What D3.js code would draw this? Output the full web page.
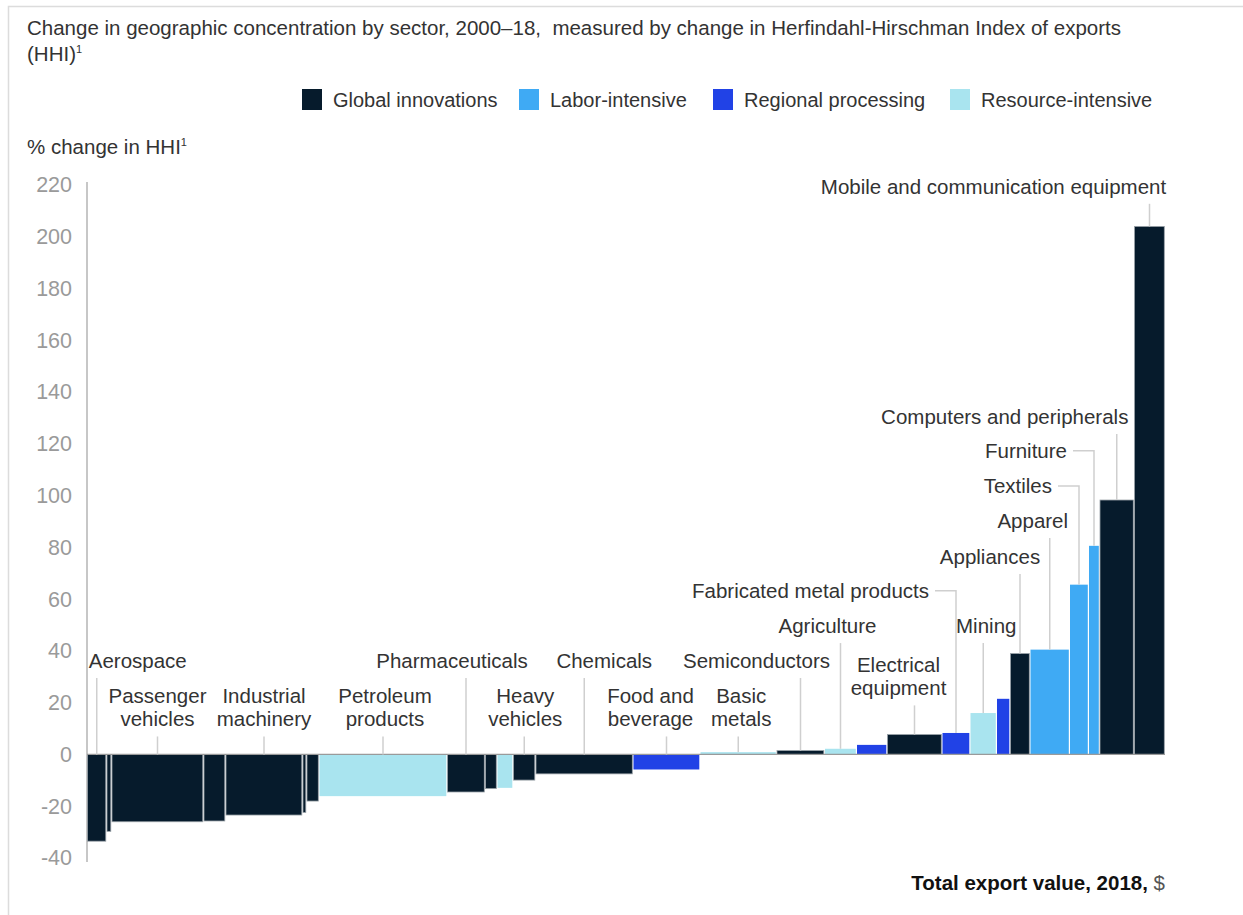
<!DOCTYPE html>
<html>
<head>
<meta charset="utf-8">
<script src="https://cdn.jsdelivr.net/npm/d3@7"></script>
<style>
  html, body { margin: 0; padding: 0; background: #fff; }
  svg text { font-family: "Liberation Sans", Arial, Helvetica, sans-serif; }
</style>
</head>
<body>
<svg id="chart" width="1243" height="915"></svg>
<script>
// ---------------- DATA ----------------
const sectors = ["Aerospace", "", "Passenger vehicles", "", "Industrial machinery", "", "",
  "Petroleum products", "Pharmaceuticals", "", "", "Heavy vehicles", "Chemicals",
  "Food and beverage", "Basic metals", "Semiconductors", "Agriculture", "",
  "Electrical equipment", "Fabricated metal products", "Mining", "", "Appliances",
  "Apparel", "Textiles", "Furniture", "Computers and peripherals",
  "Mobile and communication equipment"];
const groups = ["Global innovations", "Global innovations", "Global innovations", "Global innovations",
  "Global innovations", "Global innovations", "Global innovations", "Resource-intensive",
  "Global innovations", "Global innovations", "Resource-intensive", "Global innovations",
  "Global innovations", "Regional processing", "Resource-intensive", "Global innovations",
  "Resource-intensive", "Regional processing", "Global innovations", "Regional processing",
  "Resource-intensive", "Regional processing", "Global innovations", "Labor-intensive",
  "Labor-intensive", "Labor-intensive", "Global innovations", "Global innovations"];
// % change in HHI, 2000-18
const hhiChange = [-33.5, -29.7, -26, -25.7, -23.4, -22.4, -18, -16.1, -14.5, -13.2, -12.9, -9.9,
  -7.5, -5.8, 0.9, 1.5, 2.2, 3.7, 7.7, 8.3, 16, 21.5, 39, 40.5, 65.6, 80.6, 98.3, 204];
// Total export value 2018 ($ billions)
const exportValue = [312, 80, 1472, 352, 1232, 64, 200, 2048, 608, 192, 256, 360, 1560, 1072,
  1224, 768, 512, 488, 880, 448, 424, 216, 320, 632, 304, 176, 552, 496];
const legendGroups = ["Global innovations", "Labor-intensive", "Regional processing", "Resource-intensive"];
const yTickValues = [-40, -20, 0, 20, 40, 60, 80, 100, 120, 140, 160, 180, 200, 220];

// ---------------- STYLE / LAYOUT ----------------
const FS = 20.5;
const colors = {
  "Global innovations": "#061b2c",
  "Labor-intensive": "#3faaf4",
  "Regional processing": "#2142e6",
  "Resource-intensive": "#a9e4ef"
};
// label annotation layout: dx = px offset from bar middle, yv = value-level of first text line
const labelLayout = {
  "Aerospace": {dx: -8, yv: 36.1, anchor: "start", lines: ["Aerospace"]},
  "Passenger vehicles": {dx: 0, yv: 22.6, lines: ["Passenger", "vehicles"]},
  "Industrial machinery": {dx: 0, yv: 22.6, lines: ["Industrial", "machinery"]},
  "Petroleum products": {dx: 2, yv: 22.6, lines: ["Petroleum", "products"]},
  "Pharmaceuticals": {dx: -14, yv: 36.1, lines: ["Pharmaceuticals"]},
  "Heavy vehicles": {dx: 1, yv: 22.6, lines: ["Heavy", "vehicles"]},
  "Chemicals": {dx: 20, yv: 36.1, lines: ["Chemicals"]},
  "Food and beverage": {dx: -16, yv: 22.6, lines: ["Food and", "beverage"]},
  "Basic metals": {dx: 3, yv: 22.6, lines: ["Basic", "metals"]},
  "Semiconductors": {dx: -44, yv: 36.1, lines: ["Semiconductors"]},
  "Agriculture": {dx: -13, yv: 49.6, lines: ["Agriculture"]},
  "Electrical equipment": {dx: -16, yv: 34.6, lines: ["Electrical", "equipment"]},
  "Fabricated metal products": {elbow: true, yv: 63.2, lines: ["Fabricated metal products"]},
  "Mining": {dx: 3, yv: 49.6, lines: ["Mining"]},
  "Appliances": {dx: -30, yv: 76.3, lines: ["Appliances"]},
  "Apparel": {dx: -17, yv: 90.2, lines: ["Apparel"]},
  "Textiles": {elbow: true, yv: 103.7, lines: ["Textiles"]},
  "Furniture": {elbow: true, yv: 117.3, lines: ["Furniture"]},
  "Computers and peripherals": {dx: -112, yv: 130.4, lines: ["Computers and peripherals"]},
  "Mobile and communication equipment": {dx: -156, yv: 219.3, lines: ["Mobile and communication equipment"]}
};

const svg = d3.select("#chart");

// frame
svg.append("rect").attr("x", 8.5).attr("y", 6.5).attr("width", 1250).attr("height", 930)
  .attr("fill", "none").attr("stroke", "#dcdcdc").attr("stroke-width", 1.5);

// title
svg.append("text").attr("x", 27).attr("y", 35).attr("font-size", FS).attr("fill", "#333")
  .text("Change in geographic concentration by sector, 2000\u201318,\u00a0 measured by change in Herfindahl-Hirschman Index of exports");
const t2 = svg.append("text").attr("x", 27).attr("y", 61).attr("font-size", FS).attr("fill", "#333");
t2.append("tspan").text("(HHI)");
t2.append("tspan").attr("dy", -8).attr("font-size", 11).text("1");

// legend
const legendX = [302, 519, 713, 950];
legendGroups.forEach((g, i) => {
  const lg = svg.append("g").attr("transform", `translate(${legendX[i]},89)`);
  lg.append("rect").attr("width", 20).attr("height", 21).attr("fill", colors[g]);
  lg.append("text").attr("x", 31).attr("y", 18).attr("font-size", 20).attr("fill", "#333").text(g);
});

// y axis title
const yt = svg.append("text").attr("x", 27).attr("y", 154).attr("font-size", FS).attr("fill", "#333");
yt.append("tspan").text("% change in HHI");
yt.append("tspan").attr("dy", -8).attr("font-size", 11).text("1");

// scales
const total = d3.sum(exportValue);
const x = d3.scaleLinear().domain([0, total]).range([87, 1165]);
const y = d3.scaleLinear().domain([-40, 220]).range([858, 185]);

// y axis
const yAxis = d3.axisLeft(y).tickValues(yTickValues).tickSize(0).tickPadding(15)
  .tickFormat(d => String(d));
const ya = svg.append("g").attr("transform", "translate(87,0)").call(yAxis);
ya.select(".domain").remove();
ya.selectAll("text").attr("font-size", 21.5).attr("fill", "#9a9a9a")
  .attr("font-family", "'Liberation Sans', Arial, sans-serif");
svg.append("line").attr("x1", 87).attr("x2", 87).attr("y1", 182).attr("y2", 862)
  .attr("stroke", "#b5b5b5").attr("stroke-width", 1.5);

// bars
const bars = [];
let cum = 0;
sectors.forEach((s, i) => {
  bars.push({name: s, group: groups[i], value: hhiChange[i], x0: cum, x1: cum + exportValue[i]});
  cum += exportValue[i];
});

svg.append("g").selectAll("rect").data(bars).join("rect")
  .attr("x", d => x(d.x0) + 0.5)
  .attr("width", d => Math.max(0.5, x(d.x1) - x(d.x0) - 1.2))
  .attr("y", d => Math.min(y(d.value), y(0)))
  .attr("height", d => Math.abs(y(d.value) - y(0)))
  .attr("fill", d => colors[d.group])
  .attr("stroke", d => d.group === "Global innovations" ? "#9aa2a8" : "none")
  .attr("stroke-width", 0.8);

// baseline
svg.append("line").attr("x1", 87).attr("x2", 1165).attr("y1", y(0)).attr("y2", y(0))
  .attr("stroke", "#9a9a9a").attr("stroke-width", 1.2);

// labels and leaders
const lab = svg.append("g");
bars.forEach(d => {
  const L = labelLayout[d.name];
  if (!L) return;
  const mid = (x(d.x0) + x(d.x1)) / 2;
  const yc = y(L.yv);
  const lastC = yc + (L.lines.length - 1) * 23.5;
  const barTop = y(Math.max(d.value, 0));
  if (L.elbow) {
    const tx = mid - 27;
    lab.append("text").attr("x", tx).attr("y", yc + 7).attr("text-anchor", "end")
      .attr("font-size", FS).attr("fill", "#333").text(L.lines[0]);
    lab.append("path").attr("d", `M${tx + 6},${yc}H${mid}V${barTop}`)
      .attr("fill", "none").attr("stroke", "#cfcfcf").attr("stroke-width", 1.5);
  } else {
    const anchor = L.anchor || "middle";
    L.lines.forEach((ln, k) => {
      lab.append("text").attr("x", mid + L.dx).attr("y", yc + 7 + k * 23.5)
        .attr("text-anchor", anchor).attr("font-size", FS).attr("fill", "#333").text(ln);
    });
    lab.append("line").attr("x1", mid).attr("x2", mid).attr("y1", lastC + 17).attr("y2", barTop)
      .attr("stroke", "#cfcfcf").attr("stroke-width", 1.5);
  }
});

// x axis title
const xt = svg.append("text").attr("x", 1165).attr("y", 890).attr("text-anchor", "end")
  .attr("font-size", FS).attr("fill", "#111");
xt.append("tspan").attr("font-weight", "bold").text("Total export value, 2018, ");
xt.append("tspan").attr("fill", "#555").text("$");
</script>
</body>
</html>
